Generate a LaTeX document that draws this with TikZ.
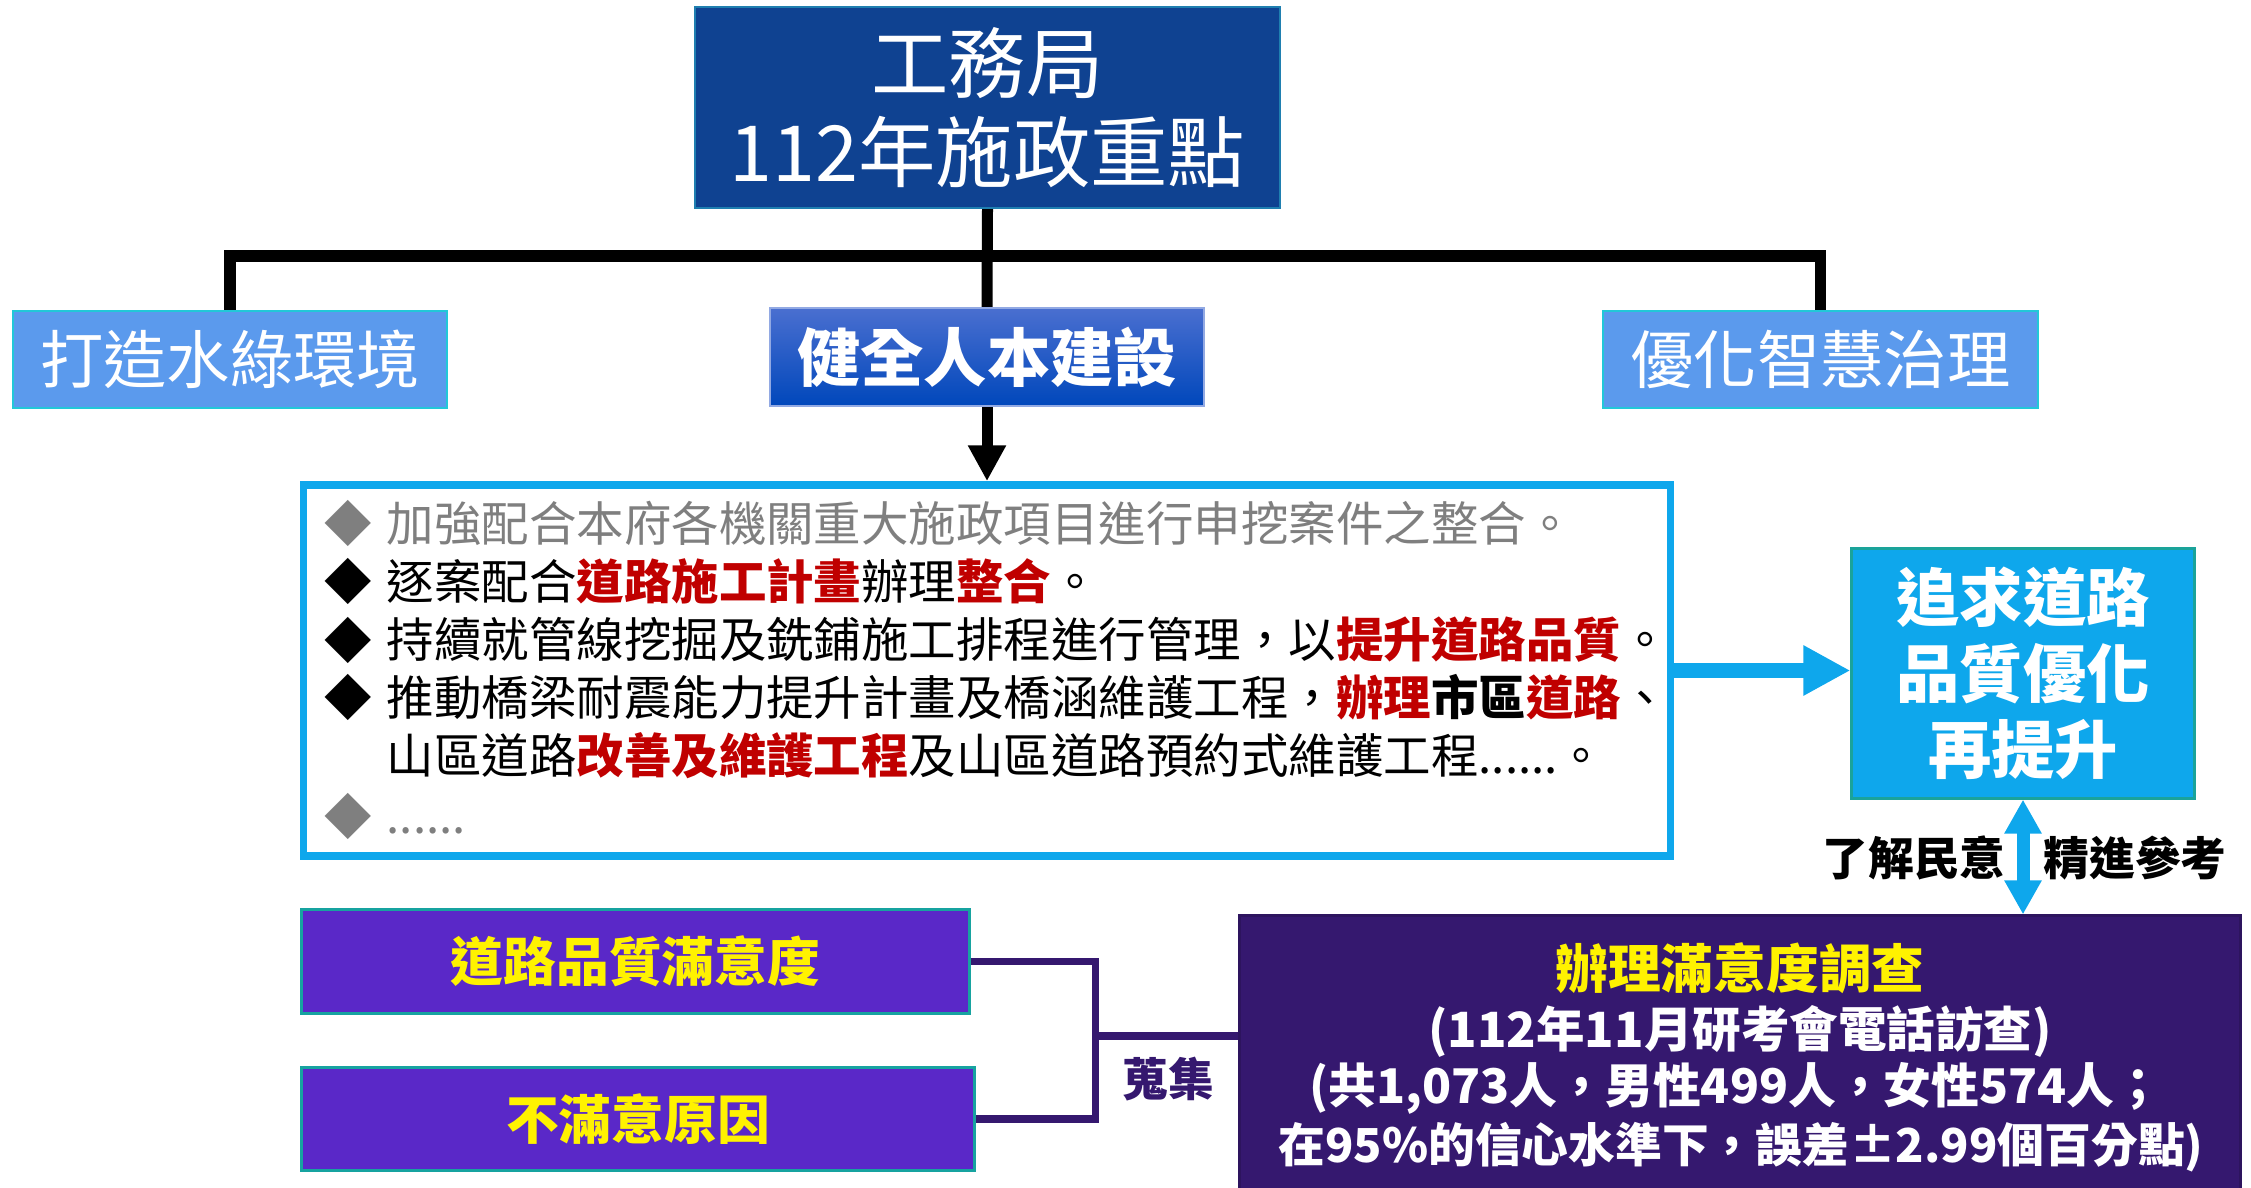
\documentclass[tikz,border=0pt]{standalone}
\usepackage{fontspec}
\setmainfont{Noto Sans CJK TC}
\usetikzlibrary{arrows.meta}

\definecolor{bureaublue}{HTML}{0F4291}
\definecolor{bureauedge}{HTML}{1F7FB0}
\definecolor{themeblue}{HTML}{5B9AED}
\definecolor{themeedge}{HTML}{22C8D8}
\definecolor{humantop}{HTML}{4A6FD0}
\definecolor{humanbot}{HTML}{0047BB}
\definecolor{taskcyan}{HTML}{0EA7EC}
\definecolor{goaledge}{HTML}{1AA39A}
\definecolor{askviolet}{HTML}{5A28C8}
\definecolor{askedge}{HTML}{17A3A0}
\definecolor{surveypurple}{HTML}{35186F}
\definecolor{notegray}{HTML}{7F7F7F}
\definecolor{notered}{HTML}{C00000}

\newcommand{\redb}[1]{\textbf{\textcolor{notered}{#1}}}
\newcommand{\blkb}[1]{\textbf{#1}}

\tikzset{
  themebox/.style={draw=themeedge, line width=0.6pt, fill=themeblue, text=white,
    minimum width=4.34cm, minimum height=0.97cm, inner sep=0pt,
    font=\fontsize{18}{21}\selectfont},
  tree/.style={line width=3.13pt, black},
  item/.style={anchor=west, inner sep=0pt, font=\fontsize{13.5}{16}\selectfont},
  dot/.style={inner sep=0pt, font=\fontsize{13.5}{16}\selectfont},
  askbox/.style={draw=askedge, line width=0.85pt, fill=askviolet, text=yellow,
    inner sep=0pt, font=\bfseries\fontsize{15}{18}\selectfont},
  gather/.style={line width=2pt, surveypurple},
}

\begin{document}
\begin{tikzpicture}[x=0.01cm, y=0.01cm]
\useasboundingbox (0,0) rectangle (2251,-1188);

% top of the tree
\node[draw=bureauedge, line width=0.6pt, fill=bureaublue, text=white, align=center,
  minimum width=5.85cm, minimum height=2.01cm, inner sep=0pt,
  font=\fontsize{22}{25.3}\selectfont] (bureau) at (987.5,-107.5) {工務局\\112年施政重點};

\node[themebox] (green) at (230,-359.5) {打造水綠環境};
\node[themebox, draw=humantop!60!white, top color=humantop, bottom color=humanbot,
  font=\bfseries\fontsize{18}{21}\selectfont, minimum height=0.98cm] (human) at (987,-357) {健全人本建設};
\node[themebox, minimum width=4.35cm] (smart) at (1820.5,-359.5) {優化智慧治理};

\coordinate (fork) at (987.5,-256);
\draw[tree] (green.north) |- (fork) -| (smart.north);
\draw[tree] (bureau.south) -- (human.north);

% work items
\node[draw=taskcyan, line width=2.13pt, minimum width=13.66cm, minimum height=3.71cm] (tasks) at (987,-670.5) {};
\draw[tree, -{Triangle[width=10.2pt, length=10.2pt]}] (human.south) -- (tasks.north);

\node[dot, text=notegray] (b1) at (348,-523) {◆};
\node[item, text=notegray] (t1) at (386,-523) {加強配合本府各機關重大施政項目進行申挖案件之整合。};
\node[dot] (b2) at (348,-581) {◆};
\node[item] (t2) at (386,-581) {逐案配合\redb{道路施工計畫}辦理\redb{整合}。};
\node[dot] (b3) at (348,-640) {◆};
\node[item] (t3) at (386,-640) {持續就管線挖掘及銑鋪施工排程進行管理，以\redb{提升道路品質}。};
\node[dot] (b4) at (348,-697) {◆};
\node[item] (t4) at (386,-697) {推動橋梁耐震能力提升計畫及橋涵維護工程，\redb{辦理}\blkb{市區}\redb{道路}、};
\node[item] (t5) at (386,-756) {山區道路\redb{改善及維護工程}及山區道路預約式維護工程......。};
\node[dot, text=notegray] (b6) at (348,-816) {◆};
\node[item, text=notegray] (t6) at (386,-816) {\vphantom{加}......};

% goal
\node[draw=goaledge, line width=0.85pt, fill=taskcyan, text=white, align=center,
  minimum width=3.42cm, minimum height=2.49cm, inner sep=0pt,
  font=\bfseries\fontsize{18}{21.6}\selectfont] (goal) at (2023,-673.5) {追求道路\\品質優化\\再提升};
\draw[taskcyan, line width=4.27pt, -{Triangle[width=13.4pt, length=13.4pt]}] (tasks.east) -- (tasks.east -| goal.west);

% survey
\node[draw=surveypurple!85!black, line width=0.85pt, fill=surveypurple, minimum width=10cm,
  minimum height=2.9cm] (survey) at (1740,-1061) {};
\node[text=yellow, inner sep=0pt, font=\bfseries\fontsize{15}{18}\selectfont] (s1) at (1740,-968) {辦理滿意度調查};
\node[text=white, inner sep=0pt, font=\bfseries\fontsize{13.8}{16.5}\selectfont] (s2) at (1740,-1031) {(112年11月研考會電話訪查)};
\node[text=white, inner sep=0pt, font=\bfseries\fontsize{13.6}{16.5}\selectfont] (s3) at (1736,-1088) {(共1,073人，男性499人，女性574人；};
\node[text=white, inner sep=0pt, font=\bfseries\fontsize{13.3}{16.5}\selectfont] (s4) at (1741,-1147) {在95\%的信心水準下，誤差±2.99個百分點)};

\draw[taskcyan, line width=3.7pt, {Triangle[width=10pt, length=9.7pt]}-{Triangle[width=10pt, length=9.7pt]}]
  (goal.south) -- (goal.south |- survey.north);
\node[inner sep=0pt, font=\bfseries\fontsize{13}{15}\selectfont] (why) at (1914,-858) {了解民意};
\node[inner sep=0pt, font=\bfseries\fontsize{13}{15}\selectfont] (ref) at (2135,-858) {精進參考};

% what is asked
\node[askbox, minimum width=6.67cm, minimum height=1.03cm] (q1) at (635.5,-961.5) {道路品質滿意度};
\node[askbox, minimum width=6.72cm, minimum height=1.02cm] (q2) at (638,-1119) {不滿意原因};
\coordinate (join) at (1095.5,-1036);
\draw[gather] (q1.east) -| (join) |- (q2.east);
\draw[gather] (join) -- (join -| survey.west);
\node[text=surveypurple, inner sep=0pt, font=\bfseries\fontsize{13}{15}\selectfont] (collect) at (1168,-1079) {蒐集};
\end{tikzpicture}
\end{document}
